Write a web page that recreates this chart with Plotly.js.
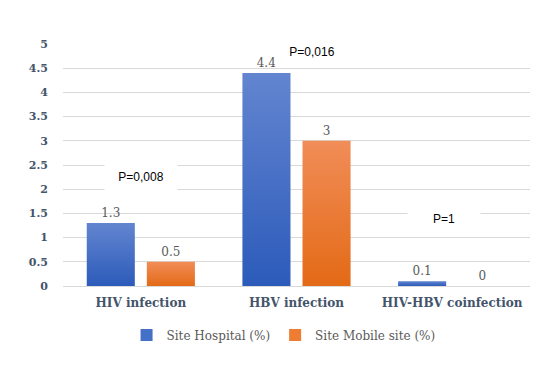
<!DOCTYPE html>
<html><head><meta charset="utf-8">
<script src="https://cdn.plot.ly/plotly-3.0.1.min.js"></script>
<style>html,body{margin:0;padding:0;background:#fff}#chart{width:556px;height:365px}</style>
</head><body><div id="chart"></div>
<script>
const categories = ["HIV infection", "HBV infection", "HIV-HBV coinfection"];
const hospital = [1.3, 4.4, 0.1];
const mobile = [0.5, 3, 0];
const seriesNames = ["Site Hospital (%)", "Site Mobile site (%)"];
const pLabels = ["P=0,008", "P=0,016", "P=1"];
const pY = [2.25, 4.83, 1.38];
const pXShift = [0, 15, -8];

const serif = "DejaVu Serif, serif";
const lblFont = {family: serif, size: 12, color: "#595959"};
const gradients = [["gradBlue", "#6385D0", "#2C5BBA"], ["gradOrange", "#F18D58", "#E36A16"]];

const traces = [
  {type: "bar", name: seriesNames[0], x: categories, y: hospital,
   marker: {color: "#4470C8", line: {width: 0}}, text: hospital.map(String), textposition: "outside",
   textfont: lblFont, cliponaxis: false},
  {type: "bar", name: seriesNames[1], x: categories, y: mobile,
   marker: {color: "#EE7D33", line: {width: 0}}, text: mobile.map(String), textposition: "outside",
   textfont: lblFont, cliponaxis: false}
];

const annotations = categories.map((c, i) => ({
  x: c, y: pY[i], xref: "x", yref: "y", text: pLabels[i], showarrow: false,
  xshift: pXShift[i], bgcolor: "#ffffff", width: 70, height: 24, borderpad: 1,
  font: {family: "Liberation Sans, Arial, sans-serif", size: 12, color: "#000"}
}));

const layout = {
  width: 556, height: 365,
  margin: {l: 63, r: 26, t: 44, b: 79},
  paper_bgcolor: "#fff", plot_bgcolor: "#fff",
  barmode: "group", bargap: 0.228, bargroupgap: 0.2,
  showlegend: true,
  legend: {orientation: "h", x: 0.51, xanchor: "center", xref: "container",
           y: 0.082, yanchor: "middle", yref: "container",
           font: {family: serif, size: 12, color: "#595959"}, itemwidth: 30},
  xaxis: {type: "category", showgrid: false, zeroline: false, showline: false,
          ticks: "", ticklabelstandoff: 8,
          tickfont: {family: serif, size: 12, color: "#44546A", weight: "bold"}},
  yaxis: {range: [0, 5], dtick: 0.5, showgrid: true, gridcolor: "#D9D9D9", gridwidth: 1,
          zeroline: true, zerolinecolor: "#D9D9D9", showline: false, ticks: "",
          ticklabelstandoff: 14,
          tickfont: {family: serif, size: 11, color: "#44546A", weight: "bold"}},
  annotations: annotations
};

Plotly.newPlot("chart", traces, layout, {displayModeBar: false, staticPlot: true}).then(gd => {
  const svg = gd.querySelector("svg.main-svg");
  const ns = "http://www.w3.org/2000/svg";
  let defs = svg.querySelector("defs");
  if (!defs) { defs = document.createElementNS(ns, "defs"); svg.insertBefore(defs, svg.firstChild); }
  gradients.forEach(([id, top, bottom]) => {
    const lg = document.createElementNS(ns, "linearGradient");
    lg.setAttribute("id", id);
    lg.setAttribute("x1", "0"); lg.setAttribute("y1", "0");
    lg.setAttribute("x2", "0"); lg.setAttribute("y2", "1");
    [["0", top], ["1", bottom]].forEach(([o, c]) => {
      const s = document.createElementNS(ns, "stop");
      s.setAttribute("offset", o); s.setAttribute("stop-color", c);
      lg.appendChild(s);
    });
    defs.appendChild(lg);
  });
  gd.querySelectorAll(".barlayer .trace.bars").forEach((t, i) => {
    t.querySelectorAll(".point path").forEach(p => {
      p.style.fill = "url(#" + gradients[i][0] + ")";
    });
  });
});
</script></body></html>
